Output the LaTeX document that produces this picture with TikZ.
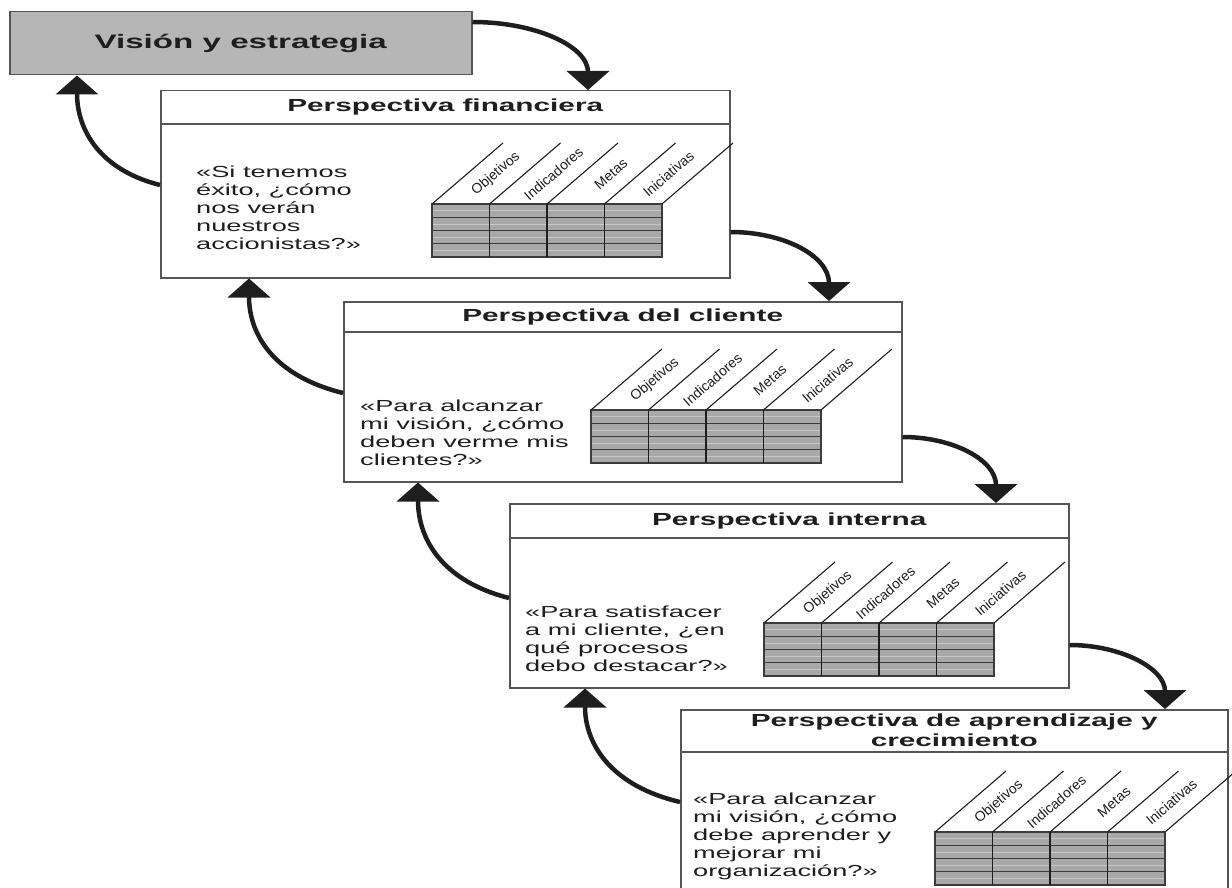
\documentclass[tikz,border=0pt]{standalone}
\usepackage{fontspec}
\setmainfont{Liberation Sans}[FakeStretch=1.7]
\newfontfamily\lblfont{Liberation Sans}
\usetikzlibrary{arrows.meta,calc}
\definecolor{vgray}{RGB}{182,182,182}
\definecolor{tgray}{RGB}{168,168,168}
\definecolor{edge}{RGB}{85,85,85}
\definecolor{ink}{RGB}{30,30,30}
\tikzset{
  box/.style={draw=edge, line width=1.5pt, fill=white, anchor=north west, inner sep=0pt},
  ttl/.style={font=\bfseries\fontsize{17.5}{20}\selectfont, text=ink, align=center, inner sep=0pt},
  qtxt/.style={font=\fontsize{16}{18}\selectfont, text=ink, align=left, anchor=north west, inner sep=0pt},
  lbl/.style={font=\lblfont\fontsize{14}{15}\selectfont, text=ink, rotate=40.7, inner sep=0pt},
  arr/.style={line width=4.5pt, draw=ink, -{Triangle[width=42pt,length=19pt]}},
  sepline/.style={draw=edge, line width=1.5pt},
  bsc/.pic={
    \fill[tgray] (0,0) rectangle (230,53);
    \foreach \r in {6.6,19.9,33.1,46.4} \draw[white!35!tgray, line width=0.6pt] (0,\r) -- (230,\r);
    \foreach \r in {13.25,26.5,39.75} \draw[edge!70!black, line width=1.2pt] (0,\r) -- (230,\r);
    \draw[edge!70!black, line width=1.2pt] (0,0) rectangle (230,53);
    \foreach \c in {57.5,115,172.5} \draw[ink, line width=1.6pt] (\c,0) -- (\c,53);
    \foreach \c in {0,57.5,115,172.5,230} \draw[ink, line width=1.1pt] (\c,0) -- ++(71,-61);
    \foreach \t [count=\k from 0] in {Objetivos,Indicadores,Metas,Iniciativas}
      \node[lbl] (lb\k) at ({57.5*\k+64},-30) {\t};
  }
}
\begin{document}
\begin{tikzpicture}[x=1pt, y=-1pt]
\useasboundingbox (0,0) rectangle (1232,888);
\clip (0,0) rectangle (1232,888);

% boxes
\node[box, fill=vgray, minimum width=462pt, minimum height=63pt] (V) at (9,11) {};
\node[font=\bfseries\fontsize{19.5}{22}\selectfont, text=ink, inner sep=0pt] (Vt) at (V.center) {Visión y estrategia};

\node[box, minimum width=569pt, minimum height=187pt] (F) at (160,90) {};
\node[box, minimum width=558pt, minimum height=180pt] (C) at (343,301) {};
\node[box, minimum width=559pt, minimum height=184pt] (I) at (509,503) {};
\node[box, minimum width=547pt, minimum height=220pt] (L) at (680,709) {};

% separators
\draw[sepline] (F.west |- 0,124) -- (F.east |- 0,124);
\draw[sepline] (C.west |- 0,332) -- (C.east |- 0,332);
\draw[sepline] (I.west |- 0,538) -- (I.east |- 0,538);
\draw[sepline] (L.west |- 0,752) -- (L.east |- 0,752);

% titles
\node[ttl] (Ft) at (F.north |- 0,107) {Perspectiva financiera};
\node[ttl] (Ct) at (C.north |- 0,316.5) {Perspectiva del cliente};
\node[ttl] (It) at (I.north |- 0,520.5) {Perspectiva interna};
\node[ttl] (Lt) at (L.north |- 0,730.5) {Perspectiva de aprendizaje y\\crecimiento};

% questions
\node[qtxt] (Fq) at (196,166) {«Si tenemos\\éxito, ¿cómo\\nos verán\\nuestros\\accionistas?»};
\node[qtxt] (Cq) at (360,399.5) {«Para alcanzar\\mi visión, ¿cómo\\deben verme mis\\clientes?»};
\node[qtxt] (Iq) at (525,606) {«Para satisfacer\\a mi cliente, ¿en\\qué procesos\\debo destacar?»};
\node[qtxt] (Lq) at (693,793) {«Para alcanzar\\mi visión, ¿cómo\\debe aprender y\\mejorar mi\\organización?»};

% tables
\pic (tF) at (432,204) {bsc};
\pic (tC) at (591,410) {bsc};
\pic (tI) at (764,623) {bsc};
\pic (tL) at (935,832) {bsc};

% arrows
\draw[arr] ($(V.north east)+(0,11)$) .. controls (535,22) and (588,46) .. (F.north -| 588,0);
\draw[arr] ($(F.north west)+(0,95)$) .. controls (100,170) and (77,130) .. (V.south -| 77,0);
\draw[arr] ($(F.north east)+(0,142)$) .. controls (784,232) and (829,256) .. (C.north -| 829,0);
\draw[arr] ($(C.north west)+(0,92)$) .. controls (274,376) and (249,335) .. (F.south -| 249,0);
\draw[arr] ($(C.north east)+(0,136)$) .. controls (953,437) and (996,460) .. (I.north -| 996,0);
\draw[arr] ($(I.north west)+(0,95)$) .. controls (442,581) and (418,539) .. (C.south -| 418,0);
\draw[arr] ($(I.north east)+(0,142)$) .. controls (1120,645) and (1165,668) .. (L.north -| 1165,0);
\draw[arr] ($(L.north west)+(0,93)$) .. controls (612,786) and (585,745) .. (I.south -| 585,0);
\end{tikzpicture}
\end{document}
